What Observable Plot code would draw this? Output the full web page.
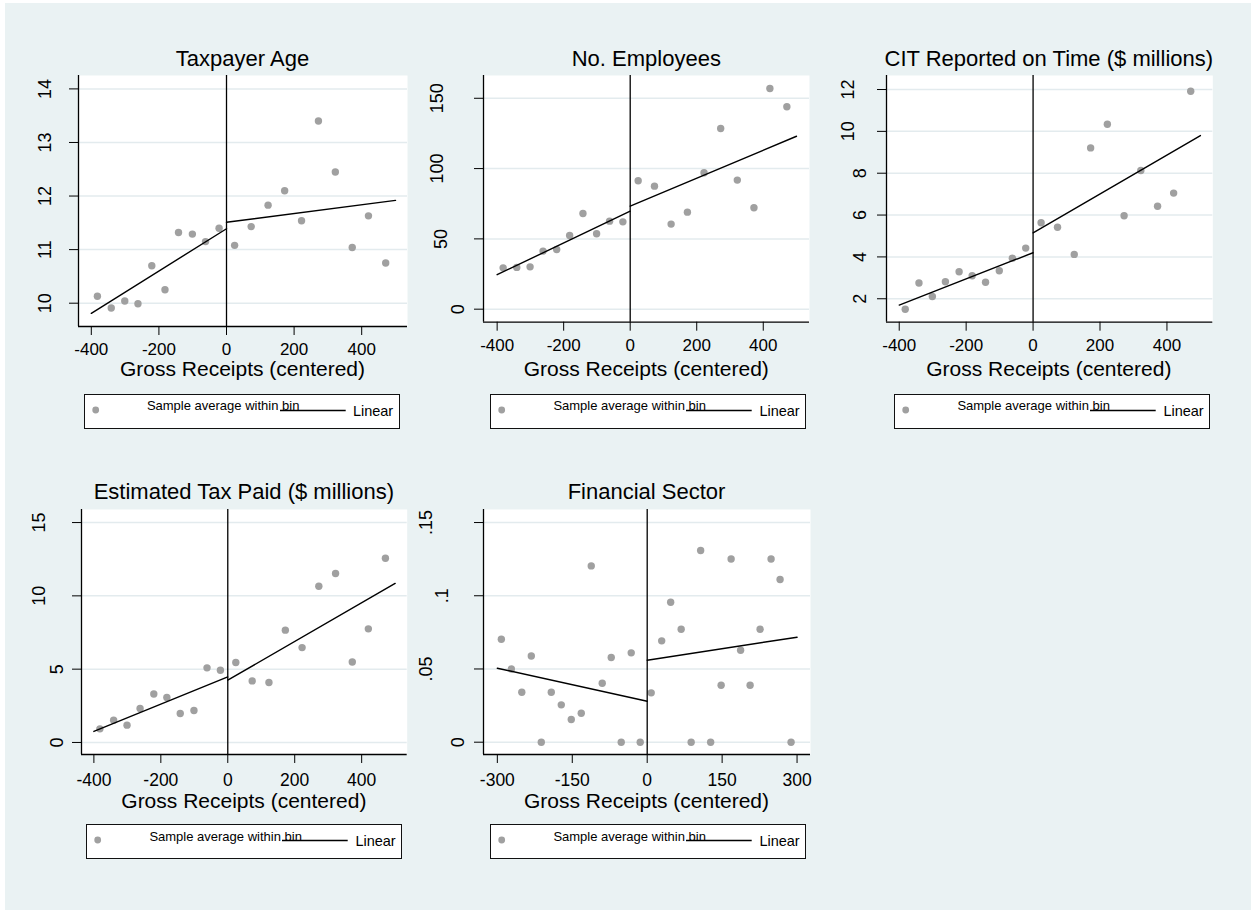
<!DOCTYPE html>
<html><head><meta charset="utf-8">
<script src="https://cdn.jsdelivr.net/npm/d3@7"></script>
<script src="https://cdn.jsdelivr.net/npm/@observablehq/plot@0.6"></script>
<style>
body{margin:0;background:#fff;font-family:"Liberation Sans",Arial,sans-serif;}
#page{position:relative;width:1251px;height:910px;background:#fff;overflow:hidden}
#bg{position:absolute;left:5px;top:3px;right:0;bottom:0;background:#eaf2f3}
.txt{position:absolute;text-align:center;white-space:nowrap;color:#000}
.legend{position:absolute;width:316px;height:35px;background:#fff;border:1px solid #111;box-sizing:border-box}
.legend span{position:absolute;white-space:nowrap;color:#000}
svg.panel{position:absolute}
</style></head><body><div id="page"><div id="bg"></div></div>
<script>
// Bin centres (gross receipts, centred) shared by the first four panels
const binX = [-382,-341,-301,-262,-221,-182,-142,-101,-62,-22, 24,73,123,172,222,272,322,372,420,471];
const age = [10.13,9.91,10.04,9.99,10.70,10.25,11.32,11.29,11.15,11.40, 11.08,11.43,11.83,12.10,11.54,13.40,12.45,11.04,11.63,10.75];
const employees = [29.4,29.7,30.1,41.3,42.5,52.4,68.1,53.6,62.6,62.1, 91.3,87.5,60.5,69.0,97.0,128.5,91.8,72.1,157.0,144.0];
const cit = [1.50,2.75,2.11,2.81,3.29,3.10,2.79,3.34,3.94,4.42, 5.63,5.42,4.12,9.21,10.34,5.97,8.13,6.42,7.05,11.92];
const taxPaid = [0.93,1.52,1.18,2.32,3.31,3.07,1.98,2.18,5.09,4.93, 5.45,4.20,4.09,7.66,6.47,10.65,11.52,5.49,7.75,12.56];
// Financial sector panel bins
const finBinX = [-292,-272,-251,-232,-212,-192,-172,-152,-132,-112,-90,-72,-52,-32,-14, 8,29,47,68,88,107,127,148,168,187,206,226,248,266,288];
const financial = [0.0703,0.0500,0.0341,0.0589,0,0.0341,0.0255,0.0155,0.0198,0.1204,0.0403,0.0578,0,0.0610,0, 0.0337,0.0692,0.0956,0.0771,0,0.1309,0,0.0389,0.1251,0.0628,0.0389,0.0771,0.1251,0.1111,0];
// Linear fits: endpoints [left start, left end, right start, right end]
const fitX = [-400, 0, 0, 500];
const finFitX = [-300, 0, 0, 300];
const ageFit = [9.81, 11.39, 11.51, 11.92];
const employeesFit = [24.5, 69.7, 73.3, 123.0];
const citFit = [1.70, 4.20, 5.15, 9.80];
const taxPaidFit = [0.75, 4.47, 4.25, 10.85];
const financialFit = [0.0505, 0.0280, 0.0560, 0.0717];
// Tick values
const xTicksWide = [-400,-200,0,200,400];
const xTicksFin = [-300,-150,0,150,300];
const ageTicks = [10,11,12,13,14];
const employeesTicks = [0,50,100,150];
const citTicks = [2,4,6,8,10,12];
const taxPaidTicks = [0,5,10,15];
const financialTicks = [0,0.05,0.1,0.15];
// Text
const titles = ["Taxpayer Age","No. Employees","CIT Reported on Time ($ millions)","Estimated Tax Paid ($ millions)","Financial Sector"];
const xTitle = "Gross Receipts (centered)";
const legendLabels = ["Sample average within bin","Linear"];

const plain = d => String(d);
const finFmt = d => d === 0 ? "0" : String(d).replace(/^0\./, ".");

const panels = [
  {title:titles[0], x:binX, values:age, fitX, fit:ageFit, xTicks:xTicksWide, yTicks:ageTicks, fmt:plain,
   rect:{left:78,top:75,right:407,bottom:326}, xDomain:[-437.9,535.5], yDomain:[9.565,14.25],
   yPad:{2:18.3}, xFont:17, xPad:7, titleBase:66, axisTitleBase:376, legend:[83.5,393.5]},
  {title:titles[1], x:binX, values:employees, fitX, fit:employeesFit, xTicks:xTicksWide, yTicks:employeesTicks, fmt:plain,
   rect:{left:483.3,top:75,right:809.3,bottom:321.7}, xDomain:[-441,539], yDomain:[-9.25,166.2],
   yPad:{3:31.2,2:27.1,1:10.5}, xFont:17, xPad:8, titleBase:66, axisTitleBase:376, legend:[490,393.5]},
  {title:titles[2], x:binX, values:cit, fitX, fit:citFit, xTicks:xTicksWide, yTicks:citTicks, fmt:plain,
   rect:{left:885.7,top:75,right:1212,bottom:321.7}, xDomain:[-438,537], yDomain:[0.88,12.67],
   yPad:{2:24,1:12}, xFont:17, xPad:8, titleBase:66, axisTitleBase:376, legend:[894,393.5]},
  {title:titles[3], x:binX, values:taxPaid, fitX, fit:taxPaidFit, xTicks:xTicksWide, yTicks:taxPaidTicks, fmt:plain,
   rect:{left:81,top:509.3,right:406.7,bottom:754.3}, xDomain:[-437,536], yDomain:[-0.82,15.89],
   yPad:{2:27.2,1:9.5}, xFont:17.5, xPad:10.5, titleBase:499.5, axisTitleBase:808, legend:[86,824]},
  {title:titles[4], x:finBinX, values:financial, fitX:finFitX, fit:financialFit, xTicks:xTicksFin, yTicks:financialTicks, fmt:finFmt,
   rect:{left:483,top:509.3,right:810,bottom:754.3}, xDomain:[-327.7,326.9], yDomain:[-0.0084,0.1589],
   yPad:{3:42.5,2:27,1:10.9}, xFont:17.5, xPad:10.5, titleBase:499.5, axisTitleBase:808, legend:[490,824]}
];

const page = document.getElementById("page");

// place text so that its baseline sits at `baseline`, with a tight line box
function placeBaseline(el, size, baseline, lh) {
  el.style.fontSize = size + "px";
  el.style.lineHeight = lh + "px";
  const offset = (lh - 1.117 * size) / 2 + 0.905 * size;
  el.style.top = (baseline - offset) + "px";
}

function addText(str, left, width, baseline, size) {
  const d = document.createElement("div");
  d.className = "txt";
  d.textContent = str;
  d.style.left = left + "px";
  d.style.width = width + "px";
  placeBaseline(d, size, baseline, Math.round(size * 0.78));
  page.appendChild(d);
}

function addLegend(left, top) {
  const box = document.createElement("div");
  box.className = "legend";
  box.style.left = left + "px";
  box.style.top = top + "px";
  const ns = "http://www.w3.org/2000/svg";
  const svg = document.createElementNS(ns, "svg");
  svg.setAttribute("width", 316); svg.setAttribute("height", 35);
  svg.style.position = "absolute"; svg.style.left = "-1px"; svg.style.top = "-1px";
  const c = document.createElementNS(ns, "circle");
  c.setAttribute("cx", 11.7); c.setAttribute("cy", 16); c.setAttribute("r", 3.4); c.setAttribute("fill", "#a0a0a0");
  const l = document.createElementNS(ns, "line");
  l.setAttribute("x1", 196); l.setAttribute("x2", 261.7); l.setAttribute("y1", 16.5); l.setAttribute("y2", 16.5);
  l.setAttribute("stroke", "#000"); l.setAttribute("stroke-width", 1.4);
  svg.appendChild(c); svg.appendChild(l);
  box.appendChild(svg);
  const s1 = document.createElement("span");
  s1.textContent = legendLabels[0];
  s1.style.left = "62.4px";
  placeBaseline(s1, 13, 16, 11);
  const s2 = document.createElement("span");
  s2.textContent = legendLabels[1];
  s2.style.left = "268.4px";
  placeBaseline(s2, 14.5, 21.5, 12);
  box.appendChild(s1); box.appendChild(s2);
  page.appendChild(box);
}

function render(p) {
  const mL = 90, mR = 20, mT = 15, mB = 50;
  const w = p.rect.right - p.rect.left, h = p.rect.bottom - p.rect.top;
  const pts = p.x.map((x, i) => ({x, y: p.values[i]}));
  const fit = p.fitX.map((x, i) => ({x, y: p.fit[i], side: i < 2 ? "L" : "R"}));
  const groups = d3.group(p.yTicks, d => p.yPad[p.fmt(d).length]);
  const yAxes = [...groups].map(([pad, ticks]) => Plot.axisY(ticks, {
    tickSize: 9, tickRotate: -90, tickPadding: pad, fontSize: 18, tickFormat: p.fmt, label: null, stroke: "#000"
  }));
  const svg = Plot.plot({
    width: w + mL + mR, height: h + mT + mB,
    marginLeft: mL, marginRight: mR, marginTop: mT, marginBottom: mB,
    x: {domain: p.xDomain}, y: {domain: p.yDomain},
    style: {background: "transparent", fontFamily: "Liberation Sans, Arial, sans-serif", color: "#000", overflow: "visible"},
    marks: [
      Plot.frame({fill: "white", stroke: "none"}),
      Plot.gridY(p.yTicks, {stroke: "#e3ebee", strokeOpacity: 1, strokeWidth: 1.5}),
      ...yAxes,
      Plot.axisX(p.xTicks, {tickSize: 9, tickPadding: p.xPad, fontSize: p.xFont, tickFormat: plain, label: null, stroke: "#000"}),
      Plot.ruleX([p.xDomain[0]], {stroke: "#000", strokeWidth: 1.3}),
      Plot.ruleY([p.yDomain[0]], {stroke: "#000", strokeWidth: 1.3}),
      Plot.dot(pts, {x: "x", y: "y", r: 3.7, fill: "#a0a0a0", stroke: "none"}),
      Plot.line(fit, {x: "x", y: "y", z: "side", stroke: "#000", strokeWidth: 1.4}),
      Plot.ruleX([0], {stroke: "#000", strokeWidth: 1.3})
    ]
  });
  svg.classList.add("panel");
  svg.style.left = (p.rect.left - mL) + "px";
  svg.style.top = (p.rect.top - mT) + "px";
  page.appendChild(svg);
  addText(p.title, p.rect.left - 40, w + 80, p.titleBase, 22);
  addText(xTitle, p.rect.left - 40, w + 80, p.axisTitleBase, 21);
  addLegend(p.legend[0], p.legend[1]);
}

panels.forEach(render);
</script>
</body></html>
